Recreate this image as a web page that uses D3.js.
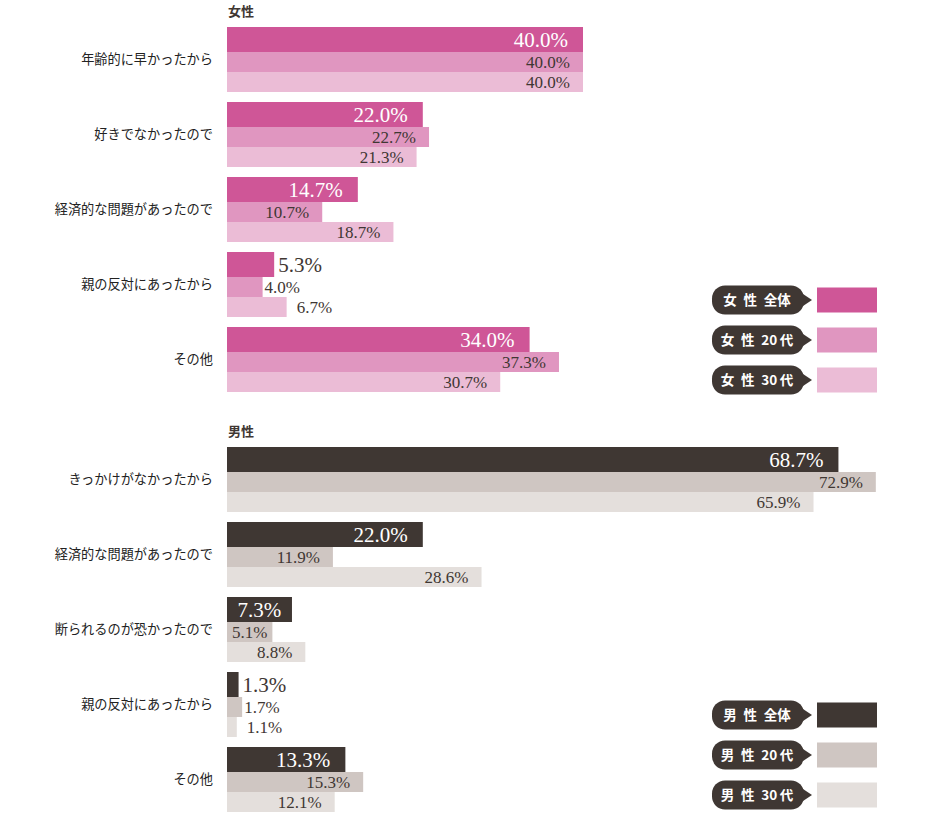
<!DOCTYPE html>
<html><head><meta charset="utf-8">
<script src="https://cdn.jsdelivr.net/npm/d3@7"></script>
<style>body{margin:0;background:#fff}</style>
</head><body>
<script>
const womenCats = ["年齢的に早かったから","好きでなかったので","経済的な問題があったので","親の反対にあったから","その他"];
const womenAll = [40.0,22.0,14.7,5.3,34.0];
const women20 = [40.0,22.7,10.7,4.0,37.3];
const women30 = [40.0,21.3,18.7,6.7,30.7];
const menCats = ["きっかけがなかったから","経済的な問題があったので","断られるのが恐かったので","親の反対にあったから","その他"];
const menAll = [68.7,22.0,7.3,1.3,13.3];
const men20 = [72.9,11.9,5.1,1.7,15.3];
const men30 = [65.9,28.6,8.8,1.1,12.1];
const womenLegend = ["女\u2002性\u2002全体","女\u2002性\u200220\u2009代","女\u2002性\u200230\u2009代"];
const menLegend = ["男\u2002性\u2002全体","男\u2002性\u200220\u2009代","男\u2002性\u200230\u2009代"];

const W=940,H=817;
const svg=d3.select("body").append("svg").attr("width",W).attr("height",H);
const x=d3.scaleLinear().domain([0,100]).range([227,227+890]);
const serif="'Liberation Serif','Times New Roman',serif";
const jp="'Noto Sans CJK JP','Noto Sans',sans-serif";
const dark="#3f3733";

function section(title, cats, series, colors, legend, top, legendTop){
  svg.append("text").attr("x",228).attr("y",top-11).text(title)
    .attr("font-family",jp).attr("font-size",13).attr("font-weight",700).attr("fill",dark);
  const y=d3.scaleBand().domain(cats).range([top, top+365]).paddingInner(10/75).paddingOuter(0);
  const offs=[0,25,45], hs=[25,20,20], fs=[21,17,17], pad=[15,13,13];
  const minInside=[6,5,7], outOff=[4,2,10];
  cats.forEach((c,i)=>{
    const g=svg.append("g");
    g.append("text").attr("x",213).attr("y",y(c)+y.bandwidth()/2).attr("dy","0.35em")
      .attr("text-anchor","end").attr("font-family",jp).attr("font-size",13.2).attr("fill","#222").text(c);
    series.forEach((s,j)=>{
      const v=s[i], y0=y(c)+offs[j];
      g.append("rect").attr("x",x(0)).attr("y",y0).attr("width",x(v)-x(0)).attr("height",hs[j]).attr("fill",colors[j]);
      const t=g.append("text").attr("y",y0+hs[j]/2).attr("dy","0.35em")
        .attr("font-family",serif).attr("font-size",fs[j]).text(v.toFixed(1)+"%");
      if(v>=minInside[j]){
        const tw=t.node().getComputedTextLength();
        const p=Math.min(pad[j], Math.max(1,(x(v)-x(0)-tw)/2));
        t.attr("x",x(v)-p).attr("text-anchor","end").attr("fill",j===0?"#fff":dark);
      } else {
        t.attr("x",x(v)+outOff[j]).attr("text-anchor","start").attr("fill",dark);
      }
    });
  });
  legend.forEach((l,k)=>{
    const cy=legendTop+k*40;
    const g=svg.append("g");
    g.append("rect").attr("x",712).attr("y",cy-14.5).attr("width",92).attr("height",29).attr("rx",13).attr("fill",dark);
    g.append("path").attr("d",`M803,${cy-6}L812,${cy}L803,${cy+6}Z`).attr("fill",dark);
    g.append("text").attr("x",757).attr("y",cy).attr("dy","0.36em").attr("text-anchor","middle")
      .attr("font-family",jp).attr("font-size",13.5).attr("font-weight",700).attr("fill","#fff").text(l);
    g.append("rect").attr("x",817).attr("y",cy-12.5).attr("width",60).attr("height",25).attr("fill",colors[k]);
  });
}
section("女性", womenCats, [womenAll,women20,women30], ["#cf5697","#e096c0","#ebbcd6"], womenLegend, 27, 300);
section("男性", menCats, [menAll,men20,men30], ["#3f3733","#cfc6c2","#e4dfdc"], menLegend, 447, 715);
</script>
</body></html>
